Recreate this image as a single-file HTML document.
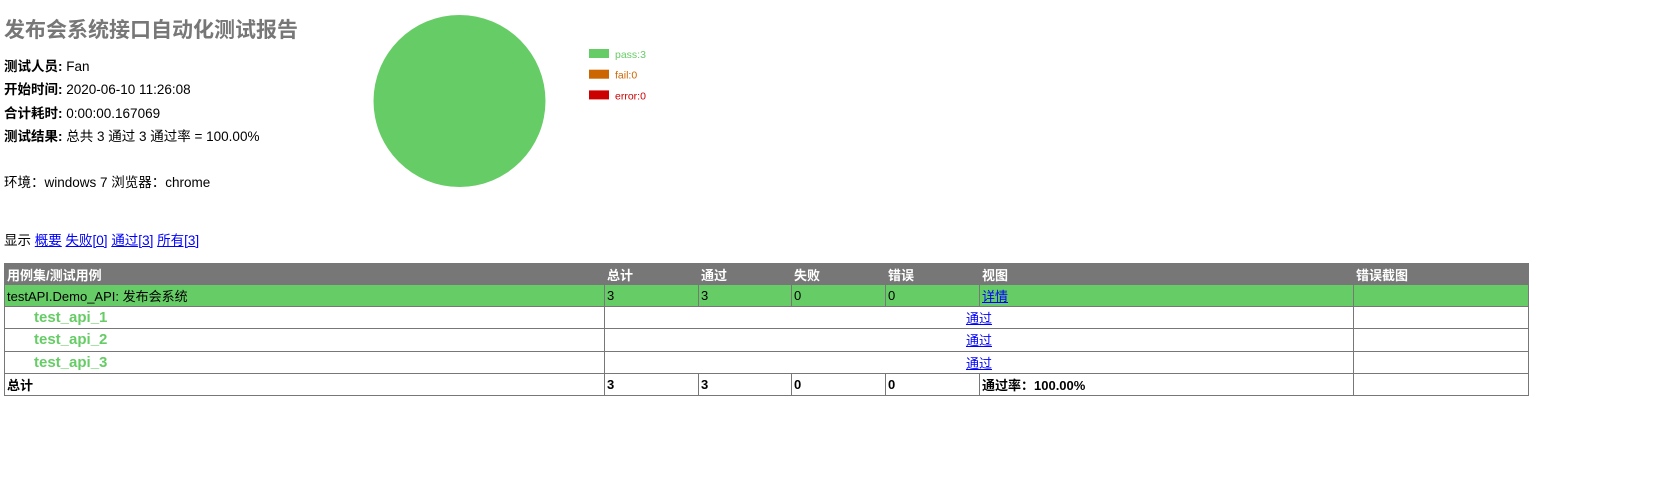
<!DOCTYPE html>
<html><head><meta charset="utf-8">
<style>
*{margin:0;padding:0;box-sizing:border-box}
body{width:1668px;height:490px;background:#fff;font-family:"Liberation Sans","Noto Sans CJK SC",sans-serif;font-size:13.5px;color:#000;position:relative;overflow:hidden}
.abs{position:absolute;white-space:nowrap;line-height:18px}
h1{position:absolute;left:4px;top:17px;font-size:21px;font-weight:bold;color:#777;line-height:28px;white-space:nowrap}
.info b{font-weight:bold}
a{color:#00f;text-decoration:underline}
table{position:absolute;left:4px;top:263px;width:1524px;border-collapse:collapse;table-layout:fixed}
td,th{border:1px solid #777;height:22.2px;padding:0 2px;font-size:13px;text-align:left;vertical-align:middle;overflow:hidden;white-space:nowrap}
th{background:#777;color:#fff;font-weight:bold;height:21px}
tr.suite td{background:#66cc66}
.case{color:#66cc66;font-weight:bold;padding-left:29px;font-size:15px}
tr.total td{font-weight:bold}
</style></head><body>
<h1>发布会系统接口自动化测试报告</h1>
<div class="abs info" style="left:4px;top:58px"><b>测试人员:</b> Fan</div>
<div class="abs info" style="left:4px;top:81px"><b>开始时间:</b> 2020-06-10 11:26:08</div>
<div class="abs info" style="left:4px;top:105px"><b>合计耗时:</b> 0:00:00.167069</div>
<div class="abs info" style="left:4px;top:128px"><b>测试结果:</b> 总共 3 通过 3 通过率 = 100.00%</div>
<div class="abs" style="left:4px;top:174px">环境：windows 7 浏览器：chrome</div>

<svg id="pie" class="abs" style="left:360px;top:8px" width="320" height="190"></svg>

<div class="abs" style="left:4px;top:232px">显示 <a href="#">概要</a> <a href="#">失败[0]</a> <a href="#">通过[3]</a> <a href="#">所有[3]</a></div>

<table>
<colgroup><col style="width:600px"><col style="width:94px"><col style="width:93px"><col style="width:94px"><col style="width:94px"><col style="width:374px"><col style="width:175px"></colgroup>
<tr><th>用例集/测试用例</th><th>总计</th><th>通过</th><th>失败</th><th>错误</th><th>视图</th><th>错误截图</th></tr>
<tr class="suite"><td>testAPI.Demo_API: 发布会系统</td><td>3</td><td>3</td><td>0</td><td>0</td><td><a href="#">详情</a></td><td></td></tr>
<tr><td class="case">test_api_1</td><td colspan="5" style="text-align:center"><a href="#">通过</a></td><td></td></tr>
<tr><td class="case">test_api_2</td><td colspan="5" style="text-align:center"><a href="#">通过</a></td><td></td></tr>
<tr><td class="case">test_api_3</td><td colspan="5" style="text-align:center"><a href="#">通过</a></td><td></td></tr>
<tr class="total"><td>总计</td><td>3</td><td>3</td><td>0</td><td>0</td><td>通过率：100.00%</td><td></td></tr>
</table>

<script>
const labels=["pass","fail","error"];
const values=[3,0,0];
const colors=["#66cc66","#cc6600","#cc0000"];
const NS="http://www.w3.org/2000/svg";
const svg=document.getElementById("pie");
const cx=99.5,cy=93,r=86;
const total=values.reduce((a,b)=>a+b,0);
let ang=-Math.PI/2;
values.forEach((v,i)=>{
  if(v<=0)return;
  const frac=v/total;
  let el;
  if(frac>=0.9999){
    el=document.createElementNS(NS,"circle");
    el.setAttribute("cx",cx);el.setAttribute("cy",cy);el.setAttribute("r",r);
  }else{
    const a2=ang+frac*2*Math.PI;
    el=document.createElementNS(NS,"path");
    const large=frac>0.5?1:0;
    el.setAttribute("d",`M${cx},${cy}L${cx+r*Math.cos(ang)},${cy+r*Math.sin(ang)}A${r},${r} 0 ${large} 1 ${cx+r*Math.cos(a2)},${cy+r*Math.sin(a2)}Z`);
    ang=a2;
  }
  el.setAttribute("fill",colors[i]);
  
  
  svg.appendChild(el);
});
labels.forEach((l,i)=>{
  const rc=document.createElementNS(NS,"rect");
  rc.setAttribute("x",229);rc.setAttribute("y",41+i*20.7);rc.setAttribute("width",20);rc.setAttribute("height",9);
  rc.setAttribute("fill",colors[i]);
  
  
  svg.appendChild(rc);
  const t=document.createElementNS(NS,"text");
  t.setAttribute("x",255);t.setAttribute("y",50+i*20.7);
  t.setAttribute("font-size","10.5");t.setAttribute("fill",colors[i]);
  t.setAttribute("font-family","Liberation Sans, sans-serif");
  t.textContent=l+":"+values[i];
  
  
  svg.appendChild(t);
});
</script>
</body></html>
